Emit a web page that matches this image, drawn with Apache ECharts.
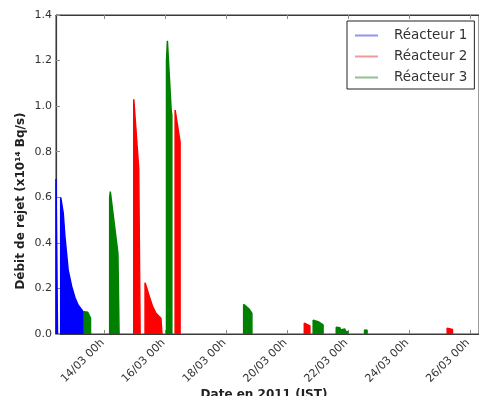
<!DOCTYPE html>
<html>
<head>
<meta charset="utf-8">
<script src="https://cdn.jsdelivr.net/npm/echarts@6/dist/echarts.min.js"></script>
<style>
  html, body { margin: 0; padding: 0; background: #fff; }
  #chart { width: 479px; height: 396px; }
</style>
</head>
<body>
<div id="chart"></div>
<script>
// x values are hours counted from 12/03 00h (JST)
const X_MIN = 9.6;
const X_MAX = 343;
const TICK_HOURS = [48, 96, 144, 192, 240, 288, 336];
const TICK_LABELS = ['14/03 00h', '16/03 00h', '18/03 00h', '20/03 00h', '22/03 00h', '24/03 00h', '26/03 00h'];

// each release episode: top edge as [hour, rate (x1e14 Bq/s)]
const REACTOR_1 = [
  [[9.6, 0.68], [10.8, 0]],
  [[13.3, 0.60], [14.5, 0.60], [15.3, 0.53], [16.6, 0.43], [18.0, 0.35], [19.2, 0.28],
   [21.9, 0.21], [24.5, 0.16], [27.0, 0.127], [31.0, 0.098], [31.7, 0.098]],
];
const REACTOR_2 = [
  [[70.9, 1.03], [71.3, 1.03], [74.8, 0.727], [75.9, 0.72]],
  [[79.8, 0.225], [80.3, 0.225], [83.2, 0.164], [85.8, 0.12], [88.4, 0.091], [92.3, 0.069], [93.1, 0.065]],
  [[103.5, 0.983], [104.4, 0.983], [107.2, 0.85], [107.4, 0.84]],
  [[205.3, 0.047], [206.1, 0.047], [209.7, 0.035]],
  [[317.9, 0.025], [318.3, 0.025], [322.1, 0.02]],
];
const REACTOR_3 = [
  [[31.8, 0.098], [34.6, 0.095], [36.0, 0.088], [36.8, 0.07]],
  [[51.9, 0.6], [52.4, 0.625], [58.4, 0.354], [59.3, 0.35]],
  [[96.7, 1.2], [97.4, 1.287], [100.4, 0.98], [100.9, 0.96]],
  [[157.5, 0.13], [158.3, 0.137], [162.0, 0.108], [164.0, 0.09]],
  [[212.3, 0.06], [213.1, 0.064], [216.2, 0.054], [220.1, 0.04]],
  [[230.5, 0.03], [231.2, 0.032], [233.4, 0.027], [233.8, 0.018], [234.4, 0.026],
   [237.2, 0.022], [237.8, 0.012], [239.7, 0.01]],
  [[252.8, 0.018], [254.8, 0.016]],
];

const NAMES = ['Réacteur 1', 'Réacteur 2', 'Réacteur 3'];
const COLORS = ['#0000ff', '#ff0000', '#008000'];
const LEGEND_COLORS = ['#9393f2', '#f29a9a', '#93bf93'];

const AXIS_COLOR = '#3a3a3a';
const TICK_COLOR = '#8a8a8a';
const TEXT_COLOR = '#333';
const FONT = 'DejaVu Sans';

// close every episode down to zero and break the line between episodes
function toSeriesData(segments) {
  const out = [];
  segments.forEach((seg, i) => {
    if (i > 0) out.push([seg[0][0], '-']);
    out.push([seg[0][0], 0]);
    seg.forEach((p) => out.push(p));
    out.push([seg[seg.length - 1][0], 0]);
  });
  return out;
}

const chart = echarts.init(document.getElementById('chart'), null, { renderer: 'canvas' });

const xAxisBase = {
  type: 'value',
  min: X_MIN,
  max: X_MAX,
  splitLine: { show: false },
  axisLine: { show: true, onZero: false, lineStyle: { color: AXIS_COLOR, width: 1.2 } },
  axisTick: { show: true, inside: true, length: 4, customValues: TICK_HOURS, lineStyle: { color: TICK_COLOR } },
};

chart.setOption({
  animation: false,
  backgroundColor: '#fff',
  textStyle: { fontFamily: FONT },
  grid: { left: 56, right: -3, top: 15, bottom: 62, show: true, borderColor: AXIS_COLOR, borderWidth: 1 },
  legend: {
    orient: 'vertical',
    left: 347,
    top: 21,
    padding: [4, 7, 1, 8],
    itemGap: 0,
    itemWidth: 23,
    itemHeight: 2,
    icon: 'rect',
    backgroundColor: '#fff',
    borderColor: '#222',
    borderWidth: 1,
    borderRadius: 0,
    textStyle: { color: TEXT_COLOR, fontFamily: FONT, fontSize: 13.5, lineHeight: 21, padding: [0, 0, 0, 11] },
    data: NAMES.map((n, i) => ({ name: n, itemStyle: { color: LEGEND_COLORS[i] } })),
  },
  xAxis: [
    {
      ...xAxisBase,
      position: 'bottom',
      axisLabel: {
        customValues: TICK_HOURS,
        rotate: 45,
        margin: 5,
        padding: [0, 3, 0, 0],
        color: TEXT_COLOR,
        fontFamily: FONT,
        fontSize: 11,
        formatter: (v) => TICK_LABELS[TICK_HOURS.indexOf(Math.round(v))] || '',
      },
    },
    {
      ...xAxisBase,
      position: 'top',
      axisLabel: { show: false },
    },
  ],
  yAxis: {
    type: 'value',
    min: 0,
    max: 1.4,
    interval: 0.2,
    splitLine: { show: false },
    axisLine: { show: true, lineStyle: { color: AXIS_COLOR, width: 1.2 } },
    axisTick: { show: true, inside: true, length: 4, lineStyle: { color: TICK_COLOR } },
    axisLabel: { color: TEXT_COLOR, fontFamily: FONT, fontSize: 11, margin: 4, formatter: (v) => v.toFixed(1) },
  },
  graphic: [
    {
      type: 'text',
      x: 21,
      y: 201,
      rotation: Math.PI / 2,
      style: {
        text: 'Débit de rejet (x10¹⁴ Bq/s)',
        font: 'bold 12px "DejaVu Sans"',
        fill: '#222',
        textAlign: 'center',
        textVerticalAlign: 'middle',
      },
    },
    {
      type: 'text',
      x: 264,
      y: 389,
      style: {
        text: 'Date en 2011 (JST)',
        font: 'bold 12px "DejaVu Sans"',
        fill: '#222',
        textAlign: 'center',
        textVerticalAlign: 'top',
      },
    },
  ],
  series: [REACTOR_1, REACTOR_2, REACTOR_3].map((segs, i) => ({
    name: NAMES[i],
    type: 'line',
    xAxisIndex: 0,
    data: toSeriesData(segs),
    showSymbol: false,
    symbol: 'none',
    connectNulls: false,
    silent: true,
    color: COLORS[i],
    lineStyle: { color: COLORS[i], width: 1.5 },
    areaStyle: { color: COLORS[i], opacity: 1 },
  })),
});
</script>
</body>
</html>
